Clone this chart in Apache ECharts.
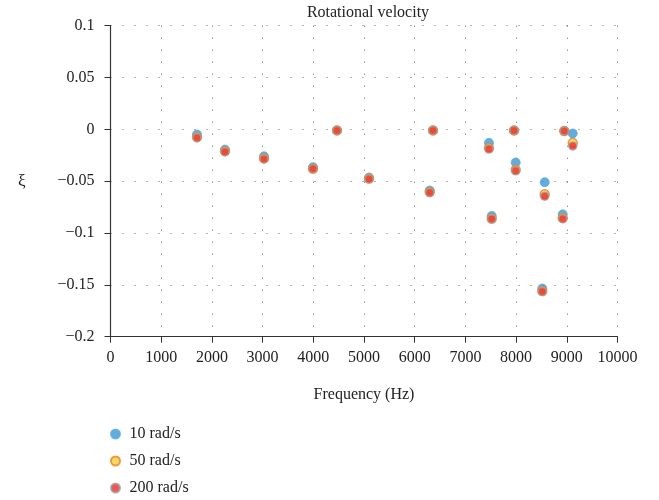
<!DOCTYPE html>
<html><head><meta charset="utf-8">
<script src="https://cdn.jsdelivr.net/npm/echarts@6/dist/echarts.min.js"></script>
<style>html,body{margin:0;padding:0;background:#fff}#c{width:659px;height:500px}</style>
</head><body><div id="c"></div>
<script>
var freq   = [1706, 2258, 3028, 3994, 5099, 4467, 6361, 6296, 7465, 7519, 7959, 7992, 8517, 8564, 8951, 8919, 9117];
var v10    = [-0.005, -0.0195, -0.026, -0.0365, -0.0465, -0.001, -0.001, -0.059, -0.013, -0.0835, -0.001, -0.032, -0.1535, -0.051, -0.0015, -0.082, -0.004];
var v50    = [-0.0075, -0.021, -0.028, -0.038, -0.0475, -0.001, -0.001, -0.0605, -0.018, -0.086, -0.001, -0.039, -0.156, -0.0625, -0.0015, -0.0855, -0.013];
var v200   = [-0.008, -0.0215, -0.0285, -0.038, -0.0478, -0.001, -0.001, -0.061, -0.019, -0.0865, -0.001, -0.040, -0.1565, -0.0645, -0.0015, -0.0862, -0.016];
var seriesNames = ['10 rad/s', '50 rad/s', '200 rad/s'];
var yTicks = [0.1, 0.05, 0, -0.05, -0.1, -0.15, -0.2];

function pairs(v){ return freq.map(function(f,i){ return [f, v[i]]; }); }
var font = '"Liberation Serif", "DejaVu Serif", serif';
var grid = {type:[1,11], color:'#666', width:1};
var chart = echarts.init(document.getElementById('c'));
chart.setOption({
  animation:false,
  textStyle:{fontFamily:font},
  title:{text:'Rotational velocity', left:363, textAlign:'center', top:0,
    textStyle:{fontFamily:font, fontSize:16, fontWeight:'normal', color:'#222'}},
  grid:{left:110.5, right:41.5, top:25.7, bottom:163.3, containLabel:false},
  legend:{orient:'vertical', left:110, top:426, padding:0, itemGap:11, itemWidth:18, itemHeight:9,
    textStyle:{fontFamily:font, fontSize:16, color:'#222'},
    data:seriesNames},
  xAxis:{type:'value', min:0, max:10000, interval:1000,
    name:'Frequency (Hz)', nameLocation:'middle', nameGap:50,
    nameTextStyle:{fontFamily:font, fontSize:16, color:'#222'},
    axisLine:{show:true, onZero:false, lineStyle:{color:'#333', width:1.2}},
    axisTick:{show:true, length:6, lineStyle:{color:'#333'}},
    axisLabel:{fontFamily:font, fontSize:16, color:'#222', margin:13,
      formatter:function(v){ return String(v); }},
    splitLine:{show:true, lineStyle:grid}},
  yAxis:{type:'value', min:-0.2, max:0.1, interval:0.05,
    name:'ξ', nameLocation:'middle', nameGap:85, nameRotate:0,
    nameTextStyle:{fontFamily:font, fontSize:17, color:'#222'},
    axisLine:{show:true, onZero:false, lineStyle:{color:'#333', width:1.2}},
    axisTick:{show:true, length:6, lineStyle:{color:'#333'}},
    axisLabel:{fontFamily:font, fontSize:16, color:'#222', margin:16,
      formatter:function(v){ var r=Math.round(v*100)/100; return String(r).replace('-', '\u2212'); }},
    splitLine:{show:true, lineStyle:grid}},
  series:[
    {name:seriesNames[0], type:'scatter', data:pairs(v10), symbolSize:9,
      itemStyle:{color:'#3a98d6', borderColor:'#5aa9de', borderWidth:1}, z:2},
    {name:seriesNames[1], type:'scatter', data:pairs(v50), symbolSize:9,
      itemStyle:{color:'#f7d33a', borderColor:'#ef7f2a', borderWidth:1.5}, z:3},
    {name:seriesNames[2], type:'scatter', data:pairs(v200), symbolSize:8,
      itemStyle:{color:'#ef2b2b', borderColor:'#a0a0a0', borderWidth:1.5}, z:4}
  ]
});
</script></body></html>
